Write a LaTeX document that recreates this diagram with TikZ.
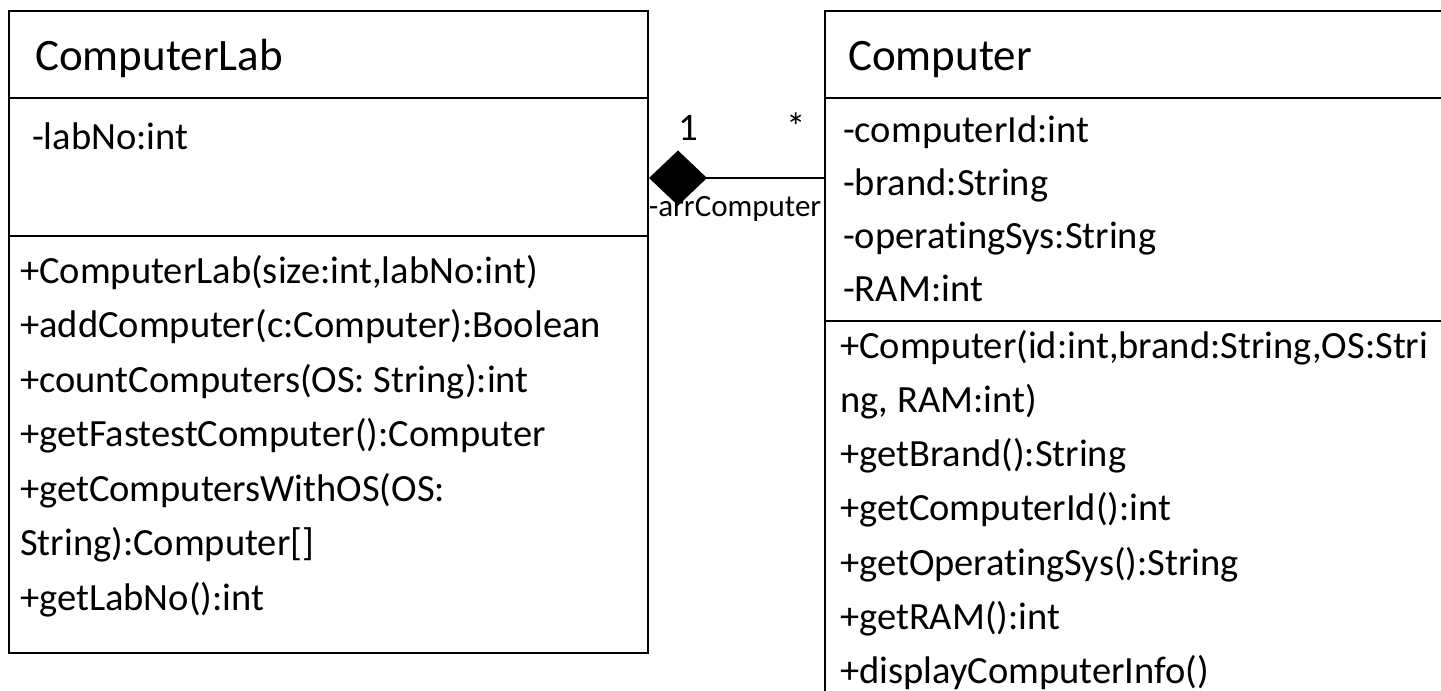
\documentclass[tikz,border=0pt]{standalone}
\usepackage{fontspec}
\setmainfont{Carlito}[Ligatures=NoCommon]
\usetikzlibrary{arrows.meta}
\begin{document}
\begin{tikzpicture}[x=1pt,y=-1pt,
  box/.style={draw, line width=2pt, anchor=north west, inner sep=0pt},
  txt/.style={anchor=base west, inner sep=0pt, font=\fontsize{38.5}{46}\selectfont},
  ttl/.style={anchor=base west, inner sep=0pt, font=\fontsize{45}{54}\selectfont},
  lbl/.style={anchor=base, inner sep=0pt, font=\fontsize{31}{37}\selectfont},
  mult/.style={anchor=base, inner sep=0pt, font=\fontsize{39}{47}\selectfont},
  conn/.style={line width=1.5pt, -{Diamond[length=58pt,width=55pt,fill=black]}}]
\useasboundingbox (0,0) rectangle (1441,691);
\clip (0,0) rectangle (1441,691);
% ComputerLab class
\node[box, minimum width=639pt, minimum height=87pt] (labT) at (8,10) {};
\node[box, minimum width=639pt, minimum height=138pt] (labA) at (8,97) {};
\node[box, minimum width=639pt, minimum height=417pt] (labM) at (8,235) {};
\node[ttl] (labName) at (35,70) {ComputerLab};
\node[txt] (la1) at (32,149) {-labNo:int};
\node[txt] (lm1) at (20,283) {+ComputerLab(size:int,labNo:int)};
\node[txt] (lm2) at (20,337.5) {+addComputer(c:Computer):Boolean};
\node[txt] (lm3) at (20,392) {+countComputers(OS: String):int};
\node[txt] (lm4) at (20,446.5) {+getFastestComputer():Computer};
\node[txt] (lm5) at (20,501) {+getComputersWithOS(OS:};
\node[txt] (lm6) at (20,555.5) {String):Computer[]};
\node[txt] (lm7) at (20,610) {+getLabNo():int};
% Computer class
\node[box, minimum width=640pt, minimum height=87pt] (comT) at (824,10) {};
\node[box, minimum width=640pt, minimum height=223pt] (comA) at (824,97) {};
\node[box, minimum width=640pt, minimum height=400pt] (comM) at (824,320) {};
\node[ttl] (comName) at (848,70) {Computer};
\node[txt] (ca1) at (843,142) {-computerId:int};
\node[txt] (ca2) at (843,195) {-brand:String};
\node[txt] (ca3) at (843,248) {-operatingSys:String};
\node[txt] (ca4) at (843,301) {-RAM:int};
\node[txt] (cm1) at (840,358) {+Computer(id:int,brand:String,OS:Stri};
\node[txt] (cm2) at (840,412.3) {ng, RAM:int)};
\node[txt] (cm3) at (840,466.6) {+getBrand():String};
\node[txt] (cm4) at (840,520.9) {+getComputerId():int};
\node[txt] (cm5) at (840,575.2) {+getOperatingSys():String};
\node[txt] (cm6) at (840,629.5) {+getRAM():int};
\node[txt] (cm7) at (840,683.8) {+displayComputerInfo()};
% composition
\coordinate (h) at (0,178);
\draw[conn] (comA.west |- h) -- (labA.east |- h);
\node[mult] (m1) at (688,140) {1};
\node[mult] (m2) at (796,140) {*};
\node[lbl] (role) at (735,216) {-arrComputer};
\end{tikzpicture}
\end{document}
